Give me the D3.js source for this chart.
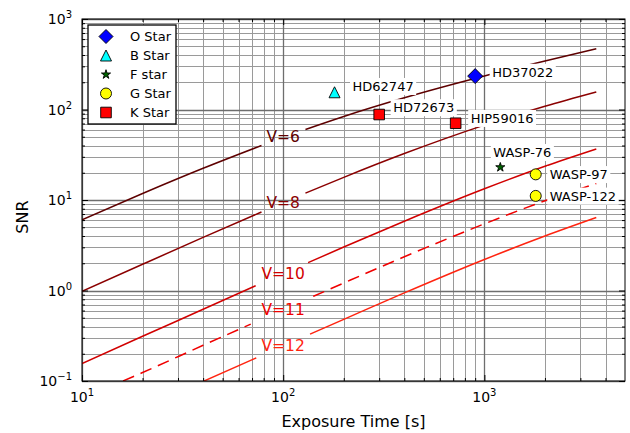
<!DOCTYPE html>
<html>
<head>
<meta charset="utf-8">
<script src="https://cdn.jsdelivr.net/npm/d3@7"></script>
<style>
    body { margin: 0; background: #fff; }
    svg text { font-family: "DejaVu Sans", sans-serif; }
</style>
</head>
<body>
<svg width="630" height="433"></svg>
<script>
// SNR curves: [exposure time (s), SNR], null = gap under the label
var snrV6  = [[10, 6.05], [20, 11.8], [40, 22.4], [78, 40.0], null, [129, 60.2], [200, 83.8], [400, 134.7], [1000, 234.5], [2000, 344], [3600, 470]];
var snrV8  = [[10, 0.98], [20, 1.95], [40, 3.86], [78, 7.37], null, [129, 11.9], [200, 17.8], [400, 32.6], [1000, 67.2], [2000, 108.5], [3600, 156]];
var snrV10 = [[10, 0.156], [20, 0.312], [40, 0.62], [73, 1.13], null, [133, 2.03], [200, 3.02], [400, 5.83], [1000, 13.3], [2000, 23.6], [3600, 36.6]];
var snrV11 = [[16, 0.1], [20, 0.124], [40, 0.248], [69, 0.425], null, [141, 0.86], [200, 1.21], [400, 2.36], [1000, 5.45], [2000, 9.8], [3600, 15.2]];
var snrV12 = [[40, 0.099], [73.5, 0.18], null, [136, 0.33], [200, 0.48], [400, 0.94], [1000, 2.2], [2000, 4.0], [3600, 6.4]];

var curveNames = ['V=6', 'V=8', 'V=10', 'V=11', 'V=12'];
var curveLabelTime = 100;
var curveLabelSnr = [50, 9.35, 1.54, 0.614, 0.245];

// observed stars
var starNames = ['HD37022', 'HD62747', 'HD72673', 'HIP59016', 'WASP-76', 'WASP-97', 'WASP-122'];
var starTypes = ['O', 'B', 'K', 'K', 'F', 'G', 'G'];
var starTimes = [900, 180, 300, 720, 1200, 1800, 1800];
var starSnr = [234, 155, 88, 70.5, 23, 19.2, 11.1];

var legendTypes = ['O', 'B', 'F', 'G', 'K'];
var legendNames = ['O Star', 'B Star', 'F star', 'G Star', 'K Star'];

var xTicks = [10, 100, 1000];
var yTicks = [0.1, 1, 10, 100, 1000];

// styling
var curveColors = ['#5e0000', '#8b0000', '#d10000', '#f00000', '#ff2410'];
var curveDash = [null, null, null, '12,7', null];
var labelOffsets = [[17, -4], [18, -6], [14, -7], [15, -5], [-7, -15], [14, 0], [14, 0]];
var markerStyle = {
    O: { fill: '#0000ff', size: 7.5 },
    B: { fill: '#00ffff', size: 5.5 },
    F: { fill: '#006400', size: 4.8 },
    G: { fill: '#ffff00', size: 5.5 },
    K: { fill: '#ff0000', size: 5.3 }
};

var svg = d3.select("svg");
var margin = { top: 19, right: 5, bottom: 52, left: 82 };
var width = +svg.attr("width") - margin.left - margin.right;
var height = +svg.attr("height") - margin.top - margin.bottom;
var g = svg.append("g").attr("transform", "translate(" + margin.left + "," + margin.top + ")");

var xScale = d3.scaleLog().domain([10, 5000]).range([0, width]);
var yScale = d3.scaleLog().domain([0.1, 1000]).range([height, 0]);

var minorX = [];
[10, 100, 1000].forEach(function (d) {
    for (var k = 2; k <= 9; k++) if (d * k < 5000) minorX.push(d * k);
});
var minorY = [];
[0.1, 1, 10, 100].forEach(function (d) {
    for (var k = 2; k <= 9; k++) minorY.push(d * k);
});

svg.append("defs").append("clipPath").attr("id", "plotclip")
    .append("rect").attr("width", width).attr("height", height);

// grid
g.selectAll(".gx").data(minorX).enter().append("line")
    .attr("x1", function (d) { return Math.round(xScale(d)) + 0.5; })
    .attr("x2", function (d) { return Math.round(xScale(d)) + 0.5; })
    .attr("y1", 0).attr("y2", height)
    .attr("stroke", "#9a9a9a").attr("stroke-width", 1);
g.selectAll(".gy").data(minorY).enter().append("line")
    .attr("y1", function (d) { return Math.round(yScale(d)) + 0.5; })
    .attr("y2", function (d) { return Math.round(yScale(d)) + 0.5; })
    .attr("x1", 0).attr("x2", width)
    .attr("stroke", "#9a9a9a").attr("stroke-width", 1);
g.selectAll(".gxm").data(xTicks).enter().append("line")
    .attr("x1", function (d) { return Math.round(xScale(d)) + 0.5; })
    .attr("x2", function (d) { return Math.round(xScale(d)) + 0.5; })
    .attr("y1", 0).attr("y2", height)
    .attr("stroke", "#6e6e6e").attr("stroke-width", 1.3);
g.selectAll(".gym").data(yTicks).enter().append("line")
    .attr("y1", function (d) { return Math.round(yScale(d)) + 0.5; })
    .attr("y2", function (d) { return Math.round(yScale(d)) + 0.5; })
    .attr("x1", 0).attr("x2", width)
    .attr("stroke", "#6e6e6e").attr("stroke-width", 1.3);

// SNR curves
var curves = [snrV6, snrV8, snrV10, snrV11, snrV12];
var snrLine = d3.line()
    .defined(function (d) { return d !== null; })
    .x(function (d) { return xScale(d[0]); })
    .y(function (d) { return yScale(d[1]); })
    .curve(d3.curveMonotoneX);

var curveG = g.append("g").attr("clip-path", "url(#plotclip)");
curves.forEach(function (c, i) {
    curveG.append("path")
        .attr("d", snrLine(c))
        .attr("fill", "none")
        .attr("stroke", curveColors[i])
        .attr("stroke-width", 1.5)
        .attr("stroke-dasharray", curveDash[i]);
});

g.selectAll(".vlabel").data(curveNames).enter().append("text")
    .attr("x", xScale(curveLabelTime))
    .attr("y", function (d, i) { return yScale(curveLabelSnr[i]) + 5.5; })
    .attr("text-anchor", "middle")
    .style("font-size", "15.5px")
    .attr("fill", function (d, i) { return curveColors[i]; })
    .text(function (d) { return d; });

// marker shapes
function markerPath(type, r) {
    var p = d3.path();
    if (type === 'O') {
        p.moveTo(0, -r); p.lineTo(r, 0); p.lineTo(0, r); p.lineTo(-r, 0); p.closePath();
        return p.toString();
    }
    if (type === 'B') {
        p.moveTo(0, -r); p.lineTo(r, r); p.lineTo(-r, r); p.closePath();
        return p.toString();
    }
    if (type === 'F') return d3.symbol().type(d3.symbolStar).size(r * r / 0.8908)();
    if (type === 'G') return d3.symbol().type(d3.symbolCircle).size(Math.PI * r * r)();
    return d3.symbol().type(d3.symbolSquare).size(4 * r * r)();
}

// stars
var stars = starNames.map(function (n, i) {
    return { name: n, type: starTypes[i], t: starTimes[i], snr: starSnr[i], off: labelOffsets[i] };
});

g.selectAll(".star").data(stars).enter().append("path")
    .attr("transform", function (d) { return "translate(" + xScale(d.t) + "," + yScale(d.snr) + ")"; })
    .attr("d", function (d) { return markerPath(d.type, markerStyle[d.type].size); })
    .attr("fill", function (d) { return markerStyle[d.type].fill; })
    .attr("stroke", "#000").attr("stroke-width", 0.9);

var starLabels = g.selectAll(".slabel").data(stars).enter().append("g");
starLabels.append("text")
    .attr("x", function (d) { return xScale(d.t) + d.off[0]; })
    .attr("y", function (d) { return yScale(d.snr) + d.off[1] + 4.7; })
    .style("font-size", "13px")
    .attr("fill", "#000")
    .text(function (d) { return d.name; });
starLabels.each(function () {
    var grp = d3.select(this);
    var bb = grp.select("text").node().getBBox();
    grp.insert("rect", "text")
        .attr("x", bb.x - 2.5).attr("y", bb.y - 1)
        .attr("width", bb.width + 5).attr("height", bb.height + 2)
        .attr("fill", "#fff");
});

// ticks (inside, all four sides)
function ticks(axis, vals, size, tr) {
    g.append("g").attr("transform", tr)
        .call(axis.tickValues(vals).tickSizeInner(-size).tickSizeOuter(0).tickFormat(""))
        .call(function (s) { s.select(".domain").remove(); })
        .selectAll("line").attr("stroke", "#000");
}
ticks(d3.axisBottom(xScale), xTicks, 6, "translate(0," + height + ")");
ticks(d3.axisBottom(xScale), minorX, 3, "translate(0," + height + ")");
ticks(d3.axisTop(xScale), xTicks, 6, "translate(0,0)");
ticks(d3.axisTop(xScale), minorX, 3, "translate(0,0)");
ticks(d3.axisLeft(yScale), yTicks, 6, "translate(0,0)");
ticks(d3.axisLeft(yScale), minorY, 3, "translate(0,0)");
ticks(d3.axisRight(yScale), yTicks, 6, "translate(" + width + ",0)");
ticks(d3.axisRight(yScale), minorY, 3, "translate(" + width + ",0)");

g.append("rect")
    .attr("width", width).attr("height", height)
    .attr("fill", "none").attr("stroke", "#000").attr("stroke-width", 1);

// tick labels 10^n
function expOf(v) { return Math.round(Math.log10(v)); }
function sup(n) { return n < 0 ? "\u2212" + (-n) : "" + n; }

var xl = g.selectAll(".xl").data(xTicks).enter().append("text")
    .attr("x", function (d) { return xScale(d); })
    .attr("y", height + 21)
    .attr("text-anchor", "middle")
    .style("font-size", "14px");
xl.append("tspan").text("10");
xl.append("tspan").attr("dy", -6).style("font-size", "10px").text(function (d) { return sup(expOf(d)); });

var yl = g.selectAll(".yl").data(yTicks).enter().append("text")
    .attr("x", -10)
    .attr("y", function (d) { return yScale(d) + 5; })
    .attr("text-anchor", "end")
    .style("font-size", "14px");
yl.append("tspan").text("10");
yl.append("tspan").attr("dy", -6).style("font-size", "10px").text(function (d) { return sup(expOf(d)); });

// axis titles
svg.append("text")
    .attr("x", margin.left + width / 2)
    .attr("y", 427)
    .attr("text-anchor", "middle")
    .style("font-size", "16px")
    .text("Exposure Time [s]");

svg.append("text")
    .attr("transform", "translate(28," + (margin.top + height / 2 + 17) + ") rotate(-90)")
    .attr("text-anchor", "middle")
    .style("font-size", "16px")
    .text("SNR");

// legend
var legend = svg.append("g").attr("transform", "translate(88,25)");
legend.append("rect")
    .attr("width", 88).attr("height", 99)
    .attr("fill", "#fff").attr("stroke", "#000").attr("stroke-width", 1.3);
legendTypes.forEach(function (t, i) {
    legend.append("path")
        .attr("transform", "translate(18," + (11.5 + i * 19) + ")")
        .attr("d", markerPath(t, t === 'O' ? 7 : markerStyle[t].size))
        .attr("fill", markerStyle[t].fill)
        .attr("stroke", "#000").attr("stroke-width", 0.9);
    legend.append("text")
        .attr("x", 42)
        .attr("y", 16.2 + i * 19)
        .style("font-size", "13px")
        .text(legendNames[i]);
});
</script>
</body>
</html>
